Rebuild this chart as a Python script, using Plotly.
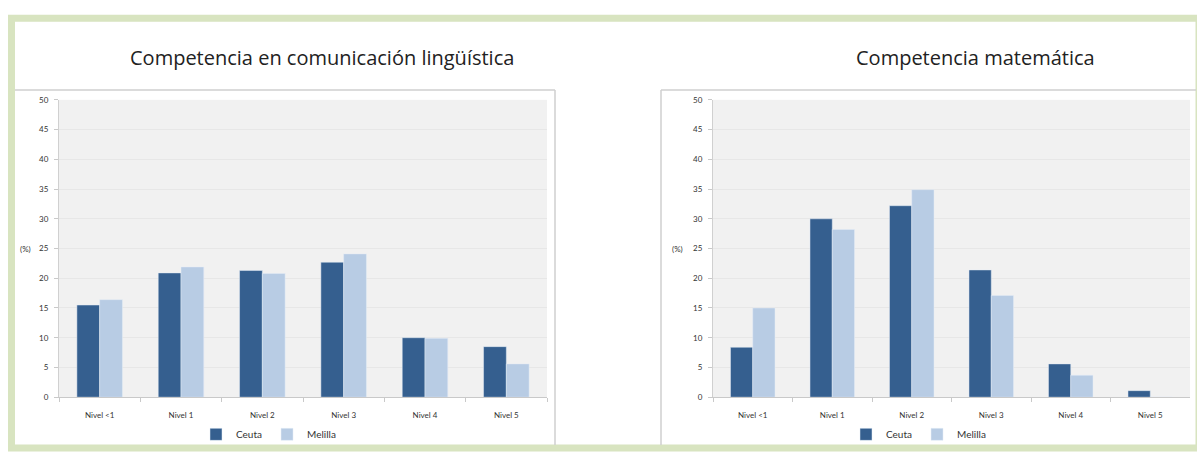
import plotly.graph_objects as go

W, H = 1197, 455

categories = ["Nivel <1", "Nivel 1", "Nivel 2", "Nivel 3", "Nivel 4", "Nivel 5"]
ling_ceuta = [15.5, 20.9, 21.3, 22.7, 10.0, 8.5]
ling_melilla = [16.4, 21.9, 20.8, 24.1, 9.9, 5.6]
mat_ceuta = [8.4, 30.0, 32.2, 21.4, 5.6, 1.1]
mat_melilla = [15.0, 28.2, 34.9, 17.1, 3.7, 0.0]
y_ticks = [0, 5, 10, 15, 20, 25, 30, 35, 40, 45, 50]
titles = ["Competencia en comunicación lingüística", "Competencia matemática"]
series_names = ["Ceuta", "Melilla"]

C_DARK = "#355f8f"
C_LIGHT = "#b8cce4"
GREEN = "#d8e4c0"
BOX = "#cfcfcf"
TXT = "#333333"


def px(x):
    return x / W


def py(y):
    return 1 - y / H


fig = go.Figure()

fig.add_trace(go.Bar(x=categories, y=ling_ceuta, name=series_names[0], marker_color=C_DARK,
                     xaxis="x", yaxis="y", legend="legend"))
fig.add_trace(go.Bar(x=categories, y=ling_melilla, name=series_names[1], marker_color=C_LIGHT,
                     xaxis="x", yaxis="y", legend="legend"))
fig.add_trace(go.Bar(x=categories, y=mat_ceuta, name=series_names[0], marker_color=C_DARK,
                     xaxis="x2", yaxis="y2", legend="legend2"))
fig.add_trace(go.Bar(x=categories, y=mat_melilla, name=series_names[1], marker_color=C_LIGHT,
                     xaxis="x2", yaxis="y2", legend="legend2"))

tickfont = dict(family="Lato, sans-serif", size=8, color=TXT)
ydom = [py(401), py(97)]

xcommon = dict(showgrid=False, showline=True, linecolor="#c9c9c9", linewidth=1,
               ticks="outside", tickson="boundaries", ticklen=4, tickcolor="#c9c9c9",
               tickfont=tickfont, fixedrange=True, ticklabelstandoff=10)
ycommon = dict(range=[0, 50], tickvals=y_ticks, showgrid=True, gridcolor="#e7e7e7",
               gridwidth=1, showline=True, linecolor="#d0d0d0", ticks="outside", ticklen=4,
               tickcolor="#c9c9c9", tickfont=tickfont, zeroline=False, ticklabelstandoff=4)

shapes = [
    dict(type="rect", xref="paper", yref="paper", x0=px(11.5), x1=px(1199), y0=py(453), y1=py(13.5),
         fillcolor="rgba(0,0,0,0)", line=dict(width=7, color=GREEN), layer="above"),
    # left chart box
    dict(type="line", xref="paper", yref="paper", x0=px(15), x1=px(555), y0=py(87), y1=py(87),
         line=dict(color=BOX, width=1.5)),
    dict(type="line", xref="paper", yref="paper", x0=px(555), x1=px(555), y0=py(87), y1=py(450),
         line=dict(color=BOX, width=1.5)),
    # right chart box
    dict(type="line", xref="paper", yref="paper", x0=px(661), x1=px(1196), y0=py(87), y1=py(87),
         line=dict(color=BOX, width=1.5)),
    dict(type="line", xref="paper", yref="paper", x0=px(661), x1=px(661), y0=py(87), y1=py(450),
         line=dict(color=BOX, width=1.5)),
]

ann_common = dict(xref="paper", yref="paper", showarrow=False, xanchor="center", yanchor="middle")
annotations = [
    dict(text=titles[0], x=px(322), y=py(54),
         font=dict(family="Open Sans, sans-serif", size=20, color="#222222"), **ann_common),
    dict(text=titles[1], x=px(975), y=py(54),
         font=dict(family="Open Sans, sans-serif", size=20, color="#222222"), **ann_common),
    dict(text="(%)", x=px(25), y=py(249),
         font=dict(family="Lato, sans-serif", size=8, color=TXT), **ann_common),
    dict(text="(%)", x=px(677), y=py(249),
         font=dict(family="Lato, sans-serif", size=8, color=TXT), **ann_common),
]

legfont = dict(family="Lato, sans-serif", size=10, color=TXT)
fig.update_layout(
    width=W, height=H,
    margin=dict(l=0, r=0, t=0, b=0),
    paper_bgcolor="white",
    plot_bgcolor="#f1f1f1",
    barmode="group", bargap=0.44, bargroupgap=0.0,
    xaxis=dict(domain=[px(59), px(547)], anchor="y", **xcommon),
    yaxis=dict(domain=ydom, anchor="x", **ycommon),
    xaxis2=dict(domain=[px(713), px(1190)], anchor="y2", **xcommon),
    yaxis2=dict(domain=ydom, anchor="x2", **ycommon),
    legend=dict(orientation="h", x=px(196), y=py(439), xanchor="left", yanchor="middle",
                font=legfont, itemwidth=30, bgcolor="rgba(0,0,0,0)", tracegroupgap=0),
    legend2=dict(orientation="h", x=px(846), y=py(439), xanchor="left", yanchor="middle",
                 font=legfont, itemwidth=30, bgcolor="rgba(0,0,0,0)", tracegroupgap=0),
    shapes=shapes,
    annotations=annotations,
    showlegend=True,
)

fig.write_html("out.html")
